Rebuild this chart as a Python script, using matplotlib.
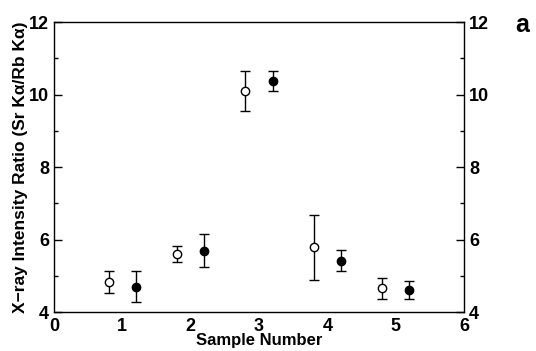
import matplotlib
matplotlib.use('Agg')
from matplotlib import pyplot as plt
from matplotlib.ticker import MultipleLocator

# Data
open_x = [0.8, 1.8, 2.8, 3.8, 4.8]
open_y = [4.82, 5.60, 10.10, 5.78, 4.65]
open_err = [0.30, 0.21, 0.56, 0.90, 0.28]

filled_x = [1.2, 2.2, 3.2, 4.2, 5.2]
filled_y = [4.70, 5.69, 10.37, 5.42, 4.61]
filled_err = [0.43, 0.46, 0.27, 0.29, 0.25]

x_ticks = [0, 1, 2, 3, 4, 5, 6]
y_ticks = [4, 6, 8, 10, 12]

plt.rcParams['font.family'] = ['Liberation Sans', 'DejaVu Sans']
plt.rcParams['font.weight'] = 'bold'

fig = plt.figure(figsize=(5.36, 3.51), dpi=100)
ax = fig.add_axes([0.1007, 0.1111, 0.765, 0.8262])

ax.errorbar(open_x, open_y, yerr=open_err, fmt='o', mfc='white', mec='black',
            ecolor='black', ms=6, mew=1.0, elinewidth=1.0, capsize=3.5, capthick=1.0)
ax.errorbar(filled_x, filled_y, yerr=filled_err, fmt='o', mfc='black', mec='black',
            ecolor='black', ms=6, mew=1.0, elinewidth=1.0, capsize=3.5, capthick=1.0)

ax.set_xlim(0, 6)
ax.set_ylim(4, 12)
ax.set_xticks(x_ticks)
ax.set_yticks(y_ticks)
ax.yaxis.set_minor_locator(MultipleLocator(1))
ax.tick_params(axis='y', which='both', direction='in', left=True, right=True,
               labelleft=True, labelright=True, labelsize=13)
ax.tick_params(axis='y', which='major', length=6, width=1)
ax.tick_params(axis='y', which='minor', length=3, width=1)
ax.tick_params(axis='x', which='major', length=0, labelsize=13, pad=4)
for s in ax.spines.values():
    s.set_linewidth(1.0)

ax.set_xlabel('Sample Number', fontsize=12, fontweight='bold', labelpad=-1)
ax.set_ylabel('X\u2212ray Intensity Ratio (Sr K\u03b1/Rb K\u03b1)', fontsize=12.5,
              fontweight='bold', labelpad=1)

fig.text(0.975, 0.93, 'a', fontsize=18, fontweight='bold', ha='center', va='center')

fig.savefig('out.png', dpi=100)
